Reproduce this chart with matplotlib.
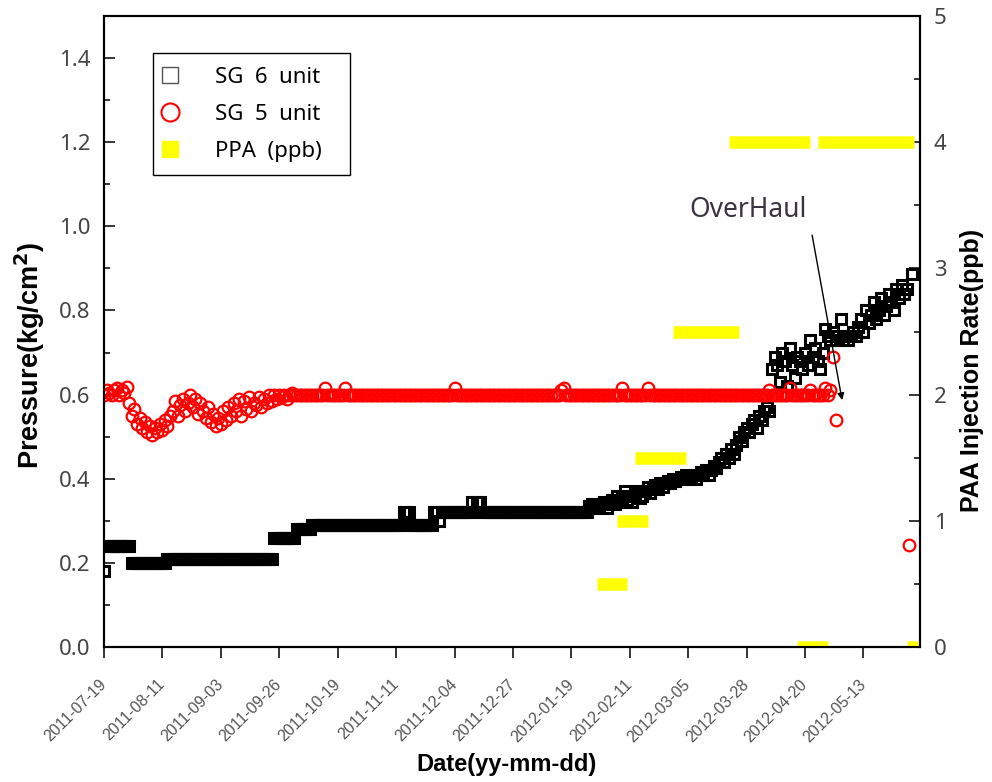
import matplotlib.pyplot as plt
import numpy as np
import pandas as pd
from matplotlib.lines import Line2D
from matplotlib.patches import Rectangle
from matplotlib.ticker import MultipleLocator

nan = np.nan

start_date = '2011-07-19'
end_date = '2012-06-04 06:00'

# daily differential pressure, kg/cm2, one value per day from start_date
sg6_pressure = [
    0.18, 0.24, 0.24, 0.24, 0.24, 0.24, 0.24, 0.24, 0.24, 0.24,
    0.24, 0.20, 0.20, 0.20, 0.20, 0.20, 0.20, 0.20, 0.20, 0.20,
    0.20, 0.20, 0.20, 0.20, 0.20, 0.21, 0.21, 0.21, 0.21, 0.21,
    0.21, 0.21, 0.21, 0.21, 0.21, 0.21, 0.21, 0.21, 0.21, 0.21,
    0.21, 0.21, 0.21, 0.21, 0.21, 0.21, 0.21, 0.21, 0.21, 0.21,
    0.21, 0.21, 0.21, 0.21, 0.21, 0.21, 0.21, 0.21, 0.21, 0.21,
    0.21, 0.21, 0.21, 0.21, 0.21, 0.21, 0.21, 0.26, 0.26, 0.26,
    0.26, 0.26, 0.26, 0.26, 0.26, 0.26, 0.28, 0.28, 0.28, 0.28,
    0.28, 0.28, 0.29, 0.29, 0.29, 0.29, 0.29, 0.29, 0.29, 0.29,
    0.29, 0.29, 0.29, 0.29, 0.29, 0.29, 0.29, 0.29, 0.29, 0.29,
    0.29, 0.29, 0.29, 0.29, 0.29, 0.29, 0.29, 0.29, 0.29, 0.29,
    0.29, 0.29, 0.29, 0.29, 0.29, 0.29, 0.29, 0.29, 0.32, 0.32,
    0.32, 0.29, 0.29, 0.29, 0.29, 0.29, 0.29, 0.29, 0.29, 0.29,
    0.32, 0.32, 0.30, 0.32, 0.32, 0.32, 0.32, 0.32, 0.32, 0.32,
    0.32, 0.32, 0.32, 0.32, 0.32, 0.345, 0.32, 0.345, 0.345, 0.32,
    0.32, 0.32, 0.32, 0.32, 0.32, 0.32, 0.32, 0.32, 0.32, 0.32,
    0.32, 0.32, 0.32, 0.32, 0.32, 0.32, 0.32, 0.32, 0.32, 0.32,
    0.32, 0.32, 0.32, 0.32, 0.32, 0.32, 0.32, 0.32, 0.32, 0.32,
    0.32, 0.32, 0.32, 0.32, 0.32, 0.32, 0.32, 0.32, 0.32, 0.32,
    0.32, 0.335, 0.34, 0.33, 0.34, 0.335, 0.34, 0.345, 0.33, 0.34,
    0.35, 0.34, 0.36, 0.345, 0.355, 0.37, 0.35, 0.36, 0.345, 0.365,
    0.37, 0.355, 0.36, 0.37, 0.38, 0.365, 0.38, 0.385, 0.375, 0.39,
    0.38, 0.39, 0.395, 0.39, 0.40, 0.395, 0.40, 0.405, 0.40, 0.41,
    0.40, 0.405, 0.41, 0.40, 0.41, 0.415, 0.41, 0.42, 0.41, 0.42,
    0.43, 0.425, 0.44, 0.45, 0.44, 0.46, 0.45, 0.47, 0.46, 0.48,
    0.50, 0.49, 0.51, 0.52, 0.51, 0.53, 0.54, 0.52, 0.55, 0.54,
    0.56, 0.57, 0.56, 0.66, 0.69, 0.67, 0.63, 0.70, 0.68, 0.62,
    0.71, 0.67, 0.64, 0.69, 0.68, 0.66, 0.70, 0.67, 0.73, 0.69,
    0.71, 0.68, 0.66, 0.70, 0.755, 0.74, 0.73, 0.75, 0.73, 0.74,
    0.78, 0.73, 0.74, 0.73, 0.74, 0.75, 0.74, 0.76, 0.78, 0.75,
    0.80, 0.77, 0.79, 0.82, 0.78, 0.80, 0.83, 0.79, 0.81, 0.84,
    0.82, 0.80, 0.85, 0.83, 0.86, 0.84, 0.85, nan, 0.886,
]

sg5_pressure = [
    0.60, 0.61, 0.605, 0.60, 0.61, 0.615, 0.60, 0.61, 0.605, 0.617,
    0.58, 0.55, 0.565, 0.53, 0.545, 0.52, 0.535, 0.51, 0.525, 0.505,
    0.52, 0.51, 0.53, 0.515, 0.54, 0.525, 0.55, 0.56, 0.585, 0.55,
    0.575, 0.59, 0.56, 0.58, 0.60, 0.57, 0.59, 0.555, 0.58, 0.56,
    0.545, 0.57, 0.535, 0.555, 0.525, 0.545, 0.53, 0.56, 0.54, 0.57,
    0.55, 0.58, 0.56, 0.59, 0.55, 0.585, 0.565, 0.595, 0.56, 0.58,
    0.575, 0.595, 0.57, 0.59, 0.58, 0.60, 0.585, 0.60, 0.59, 0.60,
    0.595, 0.60, 0.59, 0.60, 0.605, 0.60, 0.60, 0.60, 0.60, 0.60,
    0.60, 0.60, 0.60, 0.60, 0.60, 0.60, 0.60, 0.615, 0.60, 0.60,
    0.60, 0.60, 0.60, 0.60, 0.60, 0.615, 0.60, 0.60, 0.60, 0.60,
    0.60, 0.60, 0.60, 0.60, 0.60, 0.60, 0.60, 0.60, 0.60, 0.60,
    0.60, 0.60, 0.60, 0.60, 0.60, 0.60, 0.60, 0.60, 0.60, 0.60,
    0.60, 0.60, 0.60, 0.60, 0.60, 0.60, 0.60, 0.60, 0.60, 0.60,
    0.60, 0.60, 0.60, 0.60, 0.60, 0.60, 0.60, 0.60, 0.615, 0.60,
    0.60, 0.60, 0.60, 0.60, 0.60, 0.60, 0.60, 0.60, 0.60, 0.60,
    0.60, 0.60, 0.60, 0.60, 0.60, 0.60, 0.60, 0.60, 0.60, 0.60,
    0.60, 0.60, 0.60, 0.60, 0.60, 0.60, 0.60, 0.60, 0.60, 0.60,
    0.60, 0.60, 0.60, 0.60, 0.60, 0.60, 0.60, 0.60, 0.60, 0.60,
    0.612, 0.615, 0.60, 0.60, 0.60, 0.60, 0.60, 0.60, 0.60, 0.60,
    0.60, 0.60, 0.60, 0.60, 0.60, 0.60, 0.60, 0.60, 0.60, 0.60,
    0.60, 0.60, 0.60, 0.60, 0.615, 0.60, 0.60, 0.60, 0.60, 0.60,
    0.60, 0.60, 0.60, 0.60, 0.615, 0.60, 0.60, 0.60, 0.60, 0.60,
    0.60, 0.60, 0.60, 0.60, 0.60, 0.60, 0.60, 0.60, 0.60, 0.60,
    0.60, 0.60, 0.60, 0.60, 0.60, 0.60, 0.60, 0.60, 0.60, 0.60,
    0.60, 0.60, 0.60, 0.60, 0.60, 0.60, 0.60, 0.60, 0.60, 0.60,
    0.60, 0.60, 0.60, 0.60, 0.60, 0.60, 0.60, 0.60, 0.60, 0.60,
    0.60, 0.60, 0.612, 0.60, 0.60, 0.60, 0.60, 0.60, 0.60, 0.60,
    0.615, 0.60, 0.60, 0.60, 0.60, 0.60, 0.60, 0.60, 0.612, 0.60,
    0.60, 0.60, 0.60, 0.60, 0.615, 0.60, 0.61, 0.69, 0.54, nan,
    nan, nan, nan, nan, nan, nan, nan, nan, nan, nan,
    nan, nan, nan, nan, nan, nan, nan, nan, nan, nan,
    nan, nan, nan, nan, nan, nan, nan, 0.243,
]

# PAA dosing periods, ppb
ppa_rate = [0.5, 1.0, 1.5, 2.5, 4.0, 4.0, 0.0, 0.0]
ppa_from = ['2012-01-29', '2012-02-06', '2012-02-13', '2012-02-28',
            '2012-03-21', '2012-04-25', '2012-04-17', '2012-05-30']
ppa_to = ['2012-02-10', '2012-02-18', '2012-03-04', '2012-03-25',
          '2012-04-22', '2012-06-02', '2012-04-29', '2012-06-04']

date_ticks = ['2011-07-19', '2011-08-11', '2011-09-03', '2011-09-26',
              '2011-10-19', '2011-11-11', '2011-12-04', '2011-12-27',
              '2012-01-19', '2012-02-11', '2012-03-05', '2012-03-28',
              '2012-04-20', '2012-05-13']

days6 = pd.date_range(start_date, periods=len(sg6_pressure), freq='D')
days5 = pd.date_range(start_date, periods=len(sg5_pressure), freq='D')

fig = plt.figure(figsize=(9.92, 7.82), dpi=100)
ax = fig.add_axes([0.1048, 0.1726, 0.8226, 0.8069])

ax.plot(days6, sg6_pressure, ls='none', marker='s', ms=7.2,
        mfc='none', mec='black', mew=2.2)
ax.plot(days5, sg5_pressure, ls='none', marker='o', ms=8.4,
        mfc='none', mec='red', mew=1.6)

ax.set_xlim(pd.Timestamp(start_date), pd.Timestamp(end_date))
ax.set_ylim(0, 1.5)
ax.set_yticks(np.arange(0, 1.41, 0.2))
ax.yaxis.set_minor_locator(MultipleLocator(0.1))
ax.set_xticks(pd.to_datetime(date_ticks))
ax.set_xticklabels(date_ticks, rotation=45, ha='right', va='center',
                   rotation_mode='anchor', fontsize=11.5, color='#555555',
                   family='Liberation Sans')

ax.tick_params(axis='x', direction='out', length=8, width=1.1, pad=17)
ax.tick_params(axis='y', which='major', direction='in', length=8, width=1.1,
               pad=10, labelsize=16, labelcolor='#444444')
ax.tick_params(axis='y', which='minor', direction='in', length=4, width=1.1)
for lbl in ax.get_yticklabels():
    lbl.set_family('Noto Sans')

ax2 = ax.twinx()
ax2.hlines(ppa_rate, pd.to_datetime(ppa_from), pd.to_datetime(ppa_to),
           colors='#ffff00', lw=9, capstyle='butt')
ax2.set_ylim(0, 5)
ax2.set_yticks(range(6))
ax2.yaxis.set_minor_locator(MultipleLocator(0.5))
ax2.tick_params(axis='y', which='major', direction='in', length=8, width=1.1,
                pad=10, labelsize=16, labelcolor='#444444')
ax2.tick_params(axis='y', which='minor', direction='in', length=4, width=1.1)
for lbl in ax2.get_yticklabels():
    lbl.set_family('Noto Sans')

for a in (ax, ax2):
    for sp in a.spines.values():
        sp.set_linewidth(1.5)

ax.text(pd.Timestamp('2012-03-28 14:00'), 1.039, 'OverHaul', ha='center',
        va='center', fontsize=19, color='#3a3340', family='Noto Sans')
ax.annotate('', xy=(pd.Timestamp('2012-05-04 14:00'), 0.587),
            xytext=(pd.Timestamp('2012-04-22 19:00'), 0.979),
            arrowprops=dict(arrowstyle='-|>', color='black', lw=1.0,
                            mutation_scale=10, shrinkA=0, shrinkB=0))

# legend entries without its own frame; the box is drawn separately
handles = [
    Line2D([], [], ls='none', marker='s', ms=11, mfc='none', mec='#555555', mew=1.0),
    Line2D([], [], ls='none', marker='o', ms=13, mfc='none', mec='red', mew=1.5),
    Line2D([], [], ls='none', marker='s', ms=12, mfc='#ffff00', mec='#ffff00'),
]
leg = ax.legend(handles, ['SG  6  unit', 'SG  5  unit', 'PPA  (ppb)'],
                loc='upper left', bbox_to_anchor=(0.0564, 0.934),
                prop={'family': 'Noto Sans', 'size': 16}, frameon=False,
                borderpad=0.4, labelspacing=0.73, handlelength=1.0,
                handletextpad=1.53, borderaxespad=0)
leg.set_zorder(6)
ax.add_patch(Rectangle((0.060, 0.748), 0.2415, 0.1934, transform=ax.transAxes,
                       fc='white', ec='black', lw=1.0, zorder=5))

label_font = dict(fontweight='bold', family='Liberation Sans')
fig.text(30 / 992, 1 - 355 / 782, r'Pressure(kg/cm$^{\mathbf{2}}$)',
         rotation=90, ha='center', va='center', fontsize=19.5, **label_font)
fig.text(972 / 992, 1 - 370 / 782, 'PAA Injection Rate(ppb)',
         rotation=90, ha='center', va='center', fontsize=18, **label_font)
fig.text(506 / 992, 1 - 765 / 782, 'Date(yy-mm-dd)',
         ha='center', va='center', fontsize=17, **label_font)

fig.savefig('out.png', dpi=100)
